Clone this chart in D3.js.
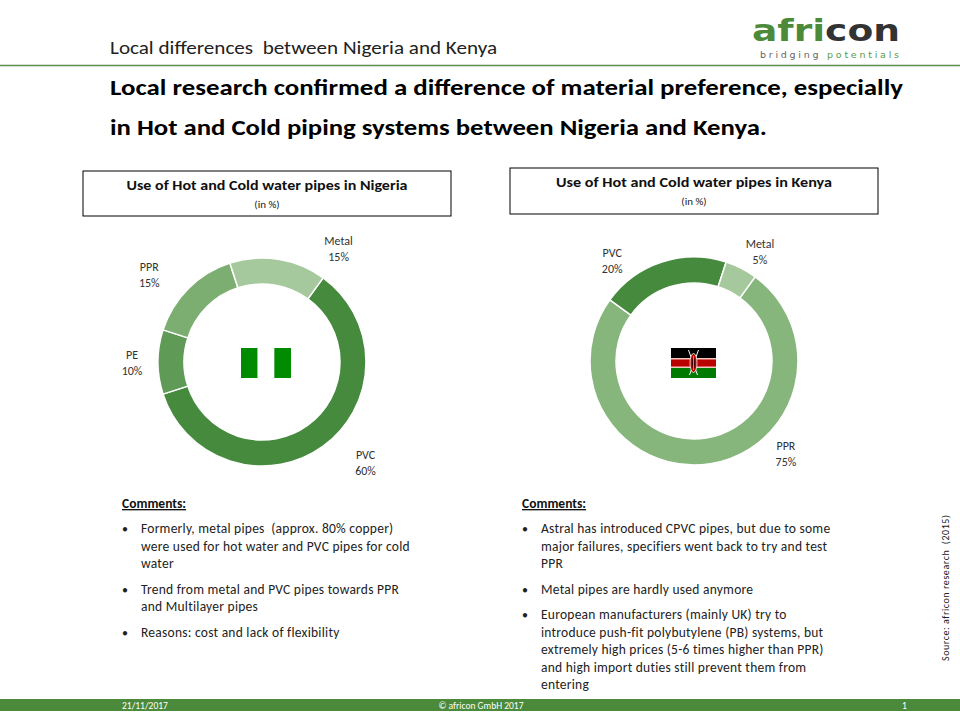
<!DOCTYPE html>
<html><head><meta charset="utf-8">
<script src="https://cdn.jsdelivr.net/npm/d3@7"></script>
<style>body{margin:0;background:#fff} svg{display:block} text{white-space:pre}</style>
</head><body>
<svg id="c" width="960" height="720"></svg>
<script>
// ---- data ----
const headerText = "Local differences  between Nigeria and Kenya";
const titleLines = ["Local research confirmed a difference of material preference, especially",
                    "in Hot and Cold piping systems between Nigeria and Kenya."];
const nigeriaTitle = "Use of Hot and Cold water pipes in Nigeria";
const kenyaTitle = "Use of Hot and Cold water pipes in Kenya";
const unitText = "(in %)";
const nigeriaCategories = ["PVC", "PE", "PPR", "Metal"];
const nigeriaValues = [60, 10, 15, 15];
const kenyaCategories = ["PPR", "PVC", "Metal"];
const kenyaValues = [75, 20, 5];
const nigeriaComments = [
  ["Formerly, metal pipes  (approx. 80% copper)", "were used for hot water and PVC pipes for cold", "water"],
  ["Trend from metal and PVC pipes towards PPR", "and Multilayer pipes"],
  ["Reasons: cost and lack of flexibility"]
];
const kenyaComments = [
  ["Astral has introduced CPVC pipes, but due to some", "major failures, specifiers went back to try and test", "PPR"],
  ["Metal pipes are hardly used anymore"],
  ["European manufacturers (mainly UK) try to", "introduce push-fit polybutylene (PB) systems, but",
   "extremely high prices (5-6 times higher than PPR)", "and high import duties still prevent them from", "entering"]
];
const sourceText = "Source: africon research  (2015)";
const footerDate = "21/11/2017";
const footerCopy = "© africon GmbH 2017";
const footerPage = "1";

// ---- styles / layout ----
const FONT = "Carlito, Lato, 'Open Sans', sans-serif";
const GREEN = "#4b8a3b";
const colorMap = {PVC: "#468a3e", PE: "#5f9b56", PPR: "#7cae71", Metal: "#a5c89c"};
const kenyaColorMap = {PVC: "#468a3e", PPR: "#86b67c", Metal: "#a5c89c"};

const svg = d3.select("#c");

// header
svg.append("text").attr("x", 110).attr("y", 54).attr("font-family", FONT)
  .attr("font-size", 17.5).attr("font-weight", 300).attr("fill", "#222")
  .attr("textLength", 387).attr("lengthAdjust", "spacingAndGlyphs").text(headerText);
svg.append("line").attr("x1", 0).attr("x2", 960).attr("y1", 65.5).attr("y2", 65.5)
  .attr("stroke", "#5b8f4c").attr("stroke-width", 1.5);

// logo
const logo = svg.append("text").attr("x", 752).attr("y", 41).attr("font-family", "'DejaVu Sans', sans-serif")
  .attr("font-size", 30).attr("font-weight", 700).attr("textLength", 148).attr("lengthAdjust", "spacingAndGlyphs");
logo.append("tspan").attr("fill", "#4c8a39").text("afri");
logo.append("tspan").attr("fill", "#333").text("con");
const sub = svg.append("text").attr("x", 760).attr("y", 58).attr("font-family", "'DejaVu Sans', sans-serif")
  .attr("font-size", 9.5).attr("textLength", 139).attr("lengthAdjust", "spacing");
sub.append("tspan").attr("fill", "#666").text("bridging ");
sub.append("tspan").attr("fill", "#5a9a48").text("potentials");

// title
const titleW = [793, 657];
titleLines.forEach((t, i) => {
  svg.append("text").attr("x", 110).attr("y", 95 + i * 40).attr("font-family", FONT)
    .attr("font-size", 22.5).attr("font-weight", 700).attr("fill", "#000")
    .attr("textLength", titleW[i]).attr("lengthAdjust", "spacingAndGlyphs").text(t);
});

// donut charts
const deg = Math.PI / 180;
const pie = d3.pie().sort(null).startAngle(36 * deg).endAngle(36 * deg + 2 * Math.PI);
const arc = d3.arc().innerRadius(78).outerRadius(104);

function chartBox(x, y, w, h, title, titleW) {
  svg.append("rect").attr("x", x).attr("y", y).attr("width", w).attr("height", h)
    .attr("fill", "#fff").attr("stroke", "#000").attr("stroke-width", 1);
  svg.append("text").attr("x", x + w / 2).attr("y", y + 19).attr("text-anchor", "middle")
    .attr("font-family", FONT).attr("font-size", 14).attr("font-weight", 700).attr("fill", "#111")
    .attr("textLength", titleW).attr("lengthAdjust", "spacingAndGlyphs").text(title);
  svg.append("text").attr("x", x + w / 2).attr("y", y + 37).attr("text-anchor", "middle")
    .attr("font-family", FONT).attr("font-size", 11).attr("fill", "#222").text(unitText);
}

function donut(cx, cy, cats, vals, colors, labelAngles, labelR) {
  const g = svg.append("g").attr("transform", `translate(${cx},${cy})`);
  const data = pie(vals);
  g.selectAll("path").data(data).join("path")
    .attr("d", arc).attr("fill", (d, i) => colors[cats[i]])
    .attr("stroke", "#fff").attr("stroke-width", 1.5);
  data.forEach((d, i) => {
    const a = (labelAngles[cats[i]] !== undefined ? labelAngles[cats[i]] * deg : (d.startAngle + d.endAngle) / 2);
    const r = labelR[cats[i]] || 135;
    const x = r * Math.sin(a), y = -r * Math.cos(a);
    const t = g.append("text").attr("text-anchor", "middle").attr("font-family", FONT)
      .attr("font-size", 12).attr("fill", "#333");
    t.append("tspan").attr("x", x).attr("y", y - 3).text(cats[i]);
    t.append("tspan").attr("x", x).attr("y", y + 13).text(vals[i] + "%");
  });
  return g;
}

chartBox(83, 171, 368, 45, nigeriaTitle, 281);
chartBox(510, 168, 368, 46, kenyaTitle, 276);

donut(262, 362, nigeriaCategories, nigeriaValues, colorMap,
  {PVC: 134, PE: 270, PPR: 308, Metal: 34}, {PVC: 144, PE: 130, PPR: 143, Metal: 137});
donut(694, 361, kenyaCategories, kenyaValues, kenyaColorMap,
  {PPR: 135, PVC: 321, Metal: 31}, {PPR: 130, PVC: 130, Metal: 128});

// Nigeria flag
(function () {
  const x = 241, y = 348, w = 50, h = 30;
  const g = svg.append("g");
  g.append("rect").attr("x", x).attr("y", y).attr("width", w / 3).attr("height", h).attr("fill", "#008b00");
  g.append("rect").attr("x", x + w / 3).attr("y", y).attr("width", w / 3).attr("height", h).attr("fill", "#fff");
  g.append("rect").attr("x", x + 2 * w / 3).attr("y", y).attr("width", w / 3).attr("height", h).attr("fill", "#008b00");
})();
// Kenya flag
(function () {
  const x = 671, y = 348, w = 45, h = 30;
  const g = svg.append("g");
  g.append("rect").attr("x", x).attr("y", y).attr("width", w).attr("height", 10).attr("fill", "#000");
  g.append("rect").attr("x", x).attr("y", y + 10).attr("width", w).attr("height", 10).attr("fill", "#f2c9c0");
  g.append("rect").attr("x", x).attr("y", y + 11.5).attr("width", w).attr("height", 7).attr("fill", "#bb0000");
  g.append("rect").attr("x", x).attr("y", y + 20).attr("width", w).attr("height", 10).attr("fill", "#007a00");
  const cx = x + w / 2, cy = y + h / 2;
  g.append("line").attr("x1", cx - 5).attr("y1", y + 2).attr("x2", cx + 4).attr("y2", y + 27).attr("stroke", "#fff").attr("stroke-width", 1);
  g.append("line").attr("x1", cx + 5).attr("y1", y + 2).attr("x2", cx - 4).attr("y2", y + 27).attr("stroke", "#fff").attr("stroke-width", 1);
  g.append("ellipse").attr("cx", cx).attr("cy", cy).attr("rx", 3.5).attr("ry", 9.5).attr("fill", "#bb0000").attr("stroke", "#fff").attr("stroke-width", 0.8);
  g.append("ellipse").attr("cx", cx).attr("cy", cy).attr("rx", 1.2).attr("ry", 6).attr("fill", "#000");
  g.append("line").attr("x1", cx).attr("y1", cy - 7).attr("x2", cx).attr("y2", cy + 7).attr("stroke", "#fff").attr("stroke-width", 0.6);
})();

// comments
function comments(x, items) {
  svg.append("text").attr("x", x).attr("y", 508).attr("font-family", FONT)
    .attr("font-size", 13.5).attr("font-weight", 700).attr("fill", "#111")
    .attr("text-decoration", "underline").text("Comments:");
  let y = 533;
  items.forEach(lines => {
    svg.append("text").attr("x", x).attr("y", y).attr("font-family", FONT).attr("font-size", 12)
      .attr("fill", "#222").text("•");
    lines.forEach((l, j) => {
      svg.append("text").attr("x", x + 19).attr("y", y + j * 17.5).attr("font-family", FONT)
        .attr("font-size", 13.5).attr("letter-spacing", 0.25).attr("fill", "#222").text(l);
    });
    y += lines.length * 17.5 + 8;
  });
}
comments(122, nigeriaComments);
comments(522, kenyaComments);

// source (rotated)
svg.append("text").attr("transform", "translate(949,588) rotate(-90)").attr("text-anchor", "middle")
  .attr("font-family", FONT).attr("font-size", 10).attr("fill", "#222")
  .attr("textLength", 146).attr("lengthAdjust", "spacing").text(sourceText);

// footer
svg.append("rect").attr("x", 0).attr("y", 699).attr("width", 960).attr("height", 12).attr("fill", GREEN);
[[footerDate, 122, "start"], [footerCopy, 481, "middle"], [footerPage, 902, "start"]].forEach(([t, x, a]) => {
  svg.append("text").attr("x", x).attr("y", 708.5).attr("text-anchor", a).attr("font-family", FONT)
    .attr("font-size", 9.5).attr("fill", "#fff").text(t);
});
</script>
</body></html>
